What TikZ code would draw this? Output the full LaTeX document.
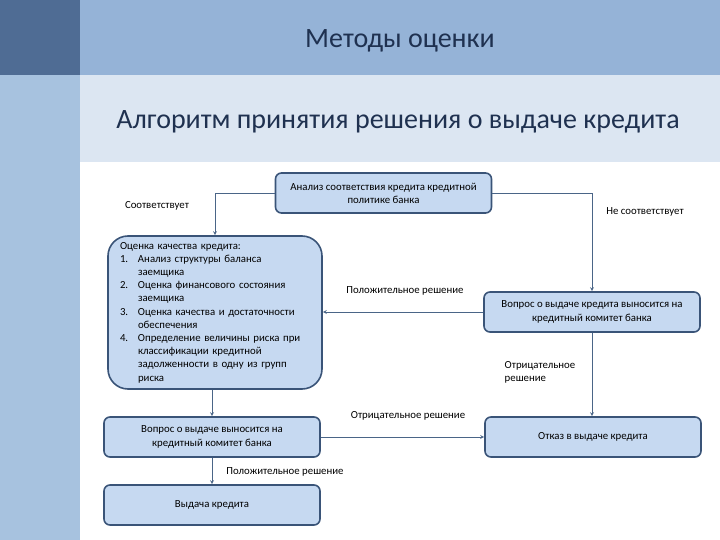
\documentclass[tikz,border=0pt]{standalone}
\usepackage{fontspec}
\setmainfont{Carlito}
\usetikzlibrary{positioning}
\definecolor{barDark}{HTML}{4F6C94}
\definecolor{barMid}{HTML}{95B3D7}
\definecolor{barSide}{HTML}{A7C2DF}
\definecolor{barLight}{HTML}{DCE6F2}
\definecolor{boxFill}{HTML}{C6D9F1}
\definecolor{boxEdge}{HTML}{3A5478}
\definecolor{lineBlue}{HTML}{4A6587}
\definecolor{titleInk}{HTML}{1F3150}
\newcommand{\num}[1]{\makebox[18pt][l]{#1}}
\newcommand{\cont}{\hspace*{18pt}}
\tikzset{
  stepbox/.style={draw=boxEdge,line width=1.6pt,fill=boxFill,rounded corners=6pt,
    minimum width=216pt,minimum height=40pt,align=center,inner sep=2pt,
    font=\fontsize{10.8}{13.2}\selectfont},
  wire/.style={draw=lineBlue,line width=0.8pt,-stealth},
  note/.style={inner sep=1pt,font=\fontsize{10.8}{13.2}\selectfont}
}

\begin{document}
\begin{tikzpicture}[x=1pt,y=-1pt]
  \useasboundingbox (0,0) rectangle (720,540);
  % background bands
  \fill[barDark] (0,0) rectangle (80,75);
  \fill[barSide] (0,75) rectangle (80,540);
  \fill[barMid] (80,0) rectangle (720,75);
  \fill[barLight] (80,75) rectangle (720,162);
  \node[text=titleInk,font=\fontsize{28}{32}\selectfont] (title) at (400,41) {Методы оценки};
  \node[text=titleInk,font=\fontsize{28}{32}\selectfont] (subtitle) at (398,122) {Алгоритм принятия решения о выдаче кредита};

  % boxes
  \node[stepbox] (policy) at (383.5,193) {Анализ соответствия кредита кредитной\\политике банка};
  \node[stepbox,minimum width=214pt,minimum height=153pt,rounded corners=20pt,
        align=left,text width=190pt] (quality) at (215,312.5)
    {Оценка качества кредита:\\
     \num{1.}Анализ структуры баланса\\
     \cont заемщика\\
     \num{2.}Оценка финансового состояния\\
     \cont заемщика\\
     \num{3.}Оценка качества и достаточности\\
     \cont обеспечения\\
     \num{4.}Определение величины риска при\\
     \cont классификации кредитной\\
     \cont задолженности в одну из групп\\
     \cont риска};
  \node[stepbox] (committeeR) at (592,312) {Вопрос о выдаче кредита выносится на\\кредитный комитет банка};
  \node[stepbox] (committeeL) at (212,437) {Вопрос о выдаче выносится на\\кредитный комитет банка};
  \node[stepbox] (refusal) at (593,437) {Отказ в выдаче кредита};
  \node[stepbox] (issue) at (212,505) {Выдача кредита};

  % connectors
  \draw[wire] (policy.west) -| (quality.north);
  \draw[wire] (policy.east) -| (committeeR.north);
  \draw[wire] (committeeR.west) -- (quality.east |- committeeR.west);
  \draw[wire] (quality.south -| committeeL.north) -- (committeeL.north);
  \draw[wire] (committeeR.south) -- (refusal.north -| committeeR.south);
  \draw[wire] (committeeL.east) -- (refusal.west);
  \draw[wire] (committeeL.south) -- (issue.north);

  % labels
  \node[note] (fits) at (157,206) {Соответствует};
  \node[note] (nofit) at (645,212) {Не соответствует};
  \node[note] (posR) at (405,291) {Положительное решение};
  \node[note,align=left] (negR) at (540,372) {Отрицательное\\ решение};
  \node[note] (negL) at (408,416) {Отрицательное решение};
  \node[note] (posL) at (285,472) {Положительное решение};
\end{tikzpicture}
\end{document}
